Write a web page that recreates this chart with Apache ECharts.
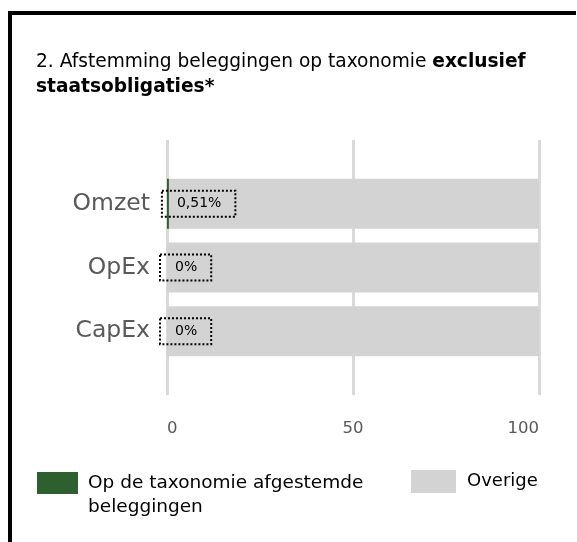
<!DOCTYPE html>
<html>
<head>
<meta charset="utf-8">
<script src="https://cdn.jsdelivr.net/npm/echarts@6/dist/echarts.min.js"></script>
<style>
html,body{margin:0;padding:0;background:#fff;}
#chart{width:577px;height:542px;}
</style>
</head>
<body>
<div id="chart"></div>
<script>
var categories = ['Omzet', 'OpEx', 'CapEx'];
var alignedValues = [0.51, 0, 0];
var otherValues = [99.49, 100, 100];
var seriesNames = ['Op de taxonomie afgestemde beleggingen', 'Overige'];
var xTicks = [0, 50, 100];

var FONT = 'DejaVu Sans';
var chart = echarts.init(document.getElementById('chart'));

function fmtPct(v) { return String(v).replace('.', ',') + '%'; }

var option = {
  backgroundColor: '#fff',
  animation: false,
  textStyle: { fontFamily: FONT },
  title: {
    left: 36, top: 50, padding: 0,
    text: '{n|2. Afstemming beleggingen op taxonomie }{b|exclusief}\n{b|staatsobligaties*}',
    textStyle: {
      fontWeight: 'normal',
      rich: {
        n: { fontFamily: FONT, fontSize: 18.6, fontWeight: 'normal', color: '#000', lineHeight: 25 },
        b: { fontFamily: FONT, fontSize: 18.6, fontWeight: 'bold', color: '#000', lineHeight: 25 }
      }
    }
  },
  graphic: [
    { type: 'line', shape: { x1: 8, y1: 13, x2: 576, y2: 13 }, style: { stroke: '#000', lineWidth: 4 } },
    { type: 'line', shape: { x1: 10, y1: 11, x2: 10, y2: 542 }, style: { stroke: '#000', lineWidth: 4 } },
    { type: 'text', left: 88, top: 498, style: { text: 'beleggingen', fontFamily: FONT, fontSize: 18.5, fill: '#000' } }
  ],
  legend: [
    {
      left: 37, top: 472, padding: 0, itemWidth: 41, itemHeight: 22, itemGap: 10,
      data: [seriesNames[0]], icon: 'rect',
      formatter: function (name) { return name.replace(' beleggingen', ''); },
      textStyle: { fontFamily: FONT, fontSize: 18.5, color: '#000', padding: [0, 0, 0, 5] }
    },
    {
      left: 411, top: 470, padding: 0, itemWidth: 45, itemHeight: 23, itemGap: 10,
      data: [seriesNames[1]], icon: 'rect',
      textStyle: { fontFamily: FONT, fontSize: 18, color: '#000', padding: [0, 0, 0, 6] }
    }
  ],
  grid: [
    { left: 167, right: 38, top: 140, bottom: 147 },
    { left: 167, right: 38, top: 172, bottom: 179 }
  ],
  xAxis: [
    {
      gridIndex: 0, type: 'value', min: xTicks[0], max: xTicks[xTicks.length - 1], interval: xTicks[1] - xTicks[0],
      axisLine: { show: false }, axisTick: { show: false },
      splitLine: { show: true, lineStyle: { color: '#d9d9d9', width: 3 } },
      axisLabel: { color: '#595959', fontFamily: FONT, fontSize: 16.5, margin: 25, alignMinLabel: 'left', alignMaxLabel: 'right' }
    },
    {
      gridIndex: 1, type: 'value', min: xTicks[0], max: xTicks[xTicks.length - 1],
      show: false
    }
  ],
  yAxis: [
    { gridIndex: 0, type: 'category', data: categories, show: false },
    {
      gridIndex: 1, type: 'category', data: categories, inverse: true,
      axisLine: { show: false }, axisTick: { show: false },
      axisLabel: { color: '#595959', fontFamily: FONT, fontSize: 23.5, margin: 17 }
    }
  ],
  series: [
    {
      name: seriesNames[0], type: 'bar', stack: 's', xAxisIndex: 1, yAxisIndex: 1,
      barWidth: 50, data: alignedValues,
      itemStyle: { color: '#2E5F2F' },
      label: {
        show: true, position: ['100%', '50%'], offset: [-7, 0], verticalAlign: 'middle', align: 'left',
        formatter: function (p) { return fmtPct(p.value); },
        color: '#000', fontFamily: FONT, fontSize: 14,
        borderType: 'dotted', borderColor: '#000', borderWidth: 2,
        padding: [6, 14, 6, 15]
      },
      z: 3
    },
    {
      name: seriesNames[1], type: 'bar', stack: 's', xAxisIndex: 1, yAxisIndex: 1,
      barWidth: 50, data: otherValues,
      itemStyle: { color: '#D3D3D3' },
      z: 2
    }
  ]
};
chart.setOption(option);
</script>
</body>
</html>
